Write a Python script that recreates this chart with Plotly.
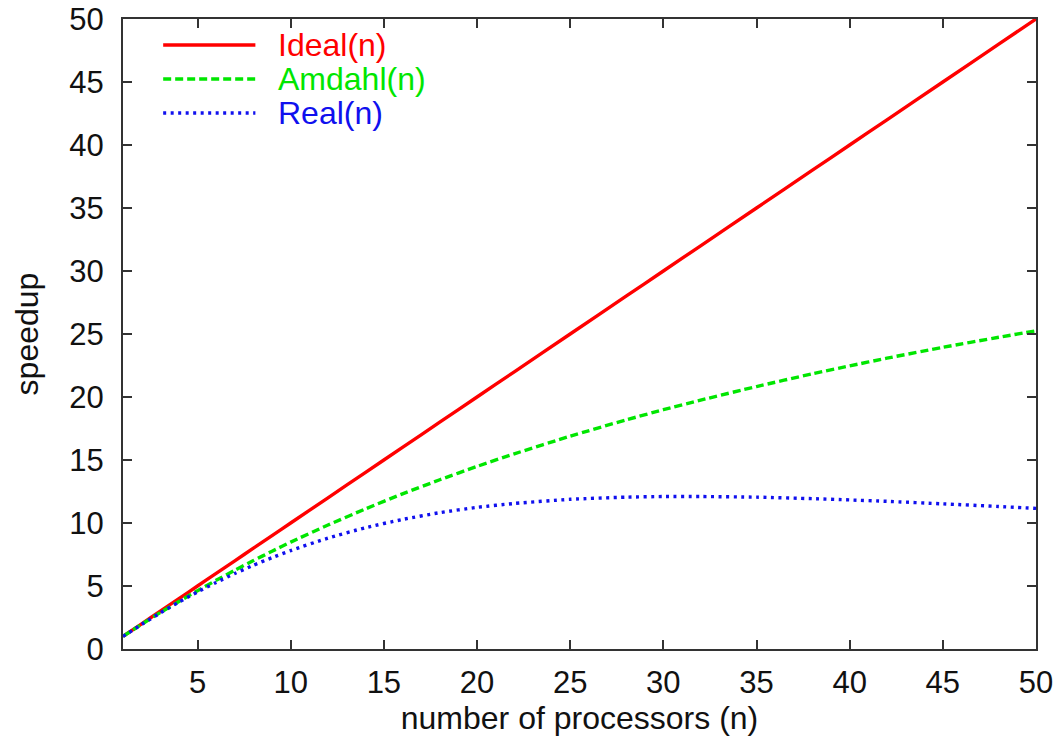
import plotly.graph_objects as go

# processors
n_vals = [1, 2, 3, 4, 5, 6, 7, 8, 9, 10, 12, 14, 16, 18, 20, 22, 25, 28, 30,
          32, 35, 38, 40, 42, 45, 48, 50]
ideal = [1, 2, 3, 4, 5, 6, 7, 8, 9, 10, 12, 14, 16, 18, 20, 22, 25, 28, 30,
         32, 35, 38, 40, 42, 45, 48, 50]
amdahl = [1.00, 1.96, 2.89, 3.77, 4.63, 5.45, 6.25, 7.02, 7.76, 8.48, 9.84,
          11.11, 12.31, 13.43, 14.49, 15.49, 16.89, 18.18, 18.99, 19.75,
          20.83, 21.84, 22.47, 23.08, 23.94, 24.74, 25.25]
real = [1.00, 1.95, 2.86, 3.72, 4.53, 5.28, 5.99, 6.65, 7.25, 7.81, 8.80,
        9.62, 10.28, 10.82, 11.24, 11.55, 11.88, 12.05, 12.10, 12.10, 12.05,
        11.93, 11.83, 11.72, 11.52, 11.31, 11.16]

x_ticks = [5, 10, 15, 20, 25, 30, 35, 40, 45, 50]
y_ticks = [0, 5, 10, 15, 20, 25, 30, 35, 40, 45, 50]

series_names = ["Ideal(n)", "Amdahl(n)", "Real(n)"]
series_colors = ["#ff0000", "#00e600", "#1010ee"]
series_dash = ["solid", "8px,4px", "3px,4.5px"]

FONT = "Liberation Sans, Arial, Helvetica, sans-serif"

fig = go.Figure()
for name, ys, col, dash in zip(series_names, [ideal, amdahl, real],
                               series_colors, series_dash):
    fig.add_trace(go.Scatter(
        x=n_vals, y=ys, mode="lines", name=name,
        line=dict(color=col, width=3.4, dash=dash, shape="spline", smoothing=0.6),
        showlegend=False,
    ))

# manual legend (long sample lines, coloured labels)
leg_x0, leg_x1, leg_tx = 0.044, 0.145, 0.168
leg_y = [0.9587, 0.9048, 0.8508]
for name, col, dash, yy in zip(series_names, series_colors, series_dash, leg_y):
    fig.add_shape(type="line", xref="paper", yref="paper",
                  x0=leg_x0, x1=leg_x1, y0=yy, y1=yy,
                  line=dict(color=col, width=3.4, dash=dash))
    fig.add_annotation(xref="paper", yref="paper", x=leg_tx, y=yy,
                       text=name, showarrow=False, xanchor="left",
                       yanchor="middle", font=dict(family=FONT, size=32, color=col))

axis_common = dict(
    showline=True, linecolor="#333333", linewidth=2, mirror="ticks",
    ticks="inside", ticklen=9, tickwidth=2, tickcolor="#333333",
    showgrid=False, zeroline=False, automargin=False,
    ticklabeloverflow="allow",
    tickfont=dict(family=FONT, size=31, color="#111111"),
)

fig.update_layout(
    width=1059, height=751,
    margin=dict(l=123, r=23, t=19, b=102),
    paper_bgcolor="white", plot_bgcolor="white",
    xaxis=dict(range=[1, 50], tickvals=x_ticks, ticklabelstandoff=5,
               title=dict(text="number of processors (n)", standoff=3,
                          font=dict(family=FONT, size=32, color="#111111")),
               **axis_common),
    yaxis=dict(range=[0, 50], tickvals=y_ticks, ticklabelstandoff=11,
               title=dict(text="speedup", standoff=21,
                          font=dict(family=FONT, size=32, color="#111111")),
               **axis_common),
)

# remove the default page margin so the figure fills the window exactly
fig.write_html("out.html",
               config={"displayModeBar": False},
               post_script="document.body.style.margin='0';"
                           "document.body.style.overflow='hidden';")
